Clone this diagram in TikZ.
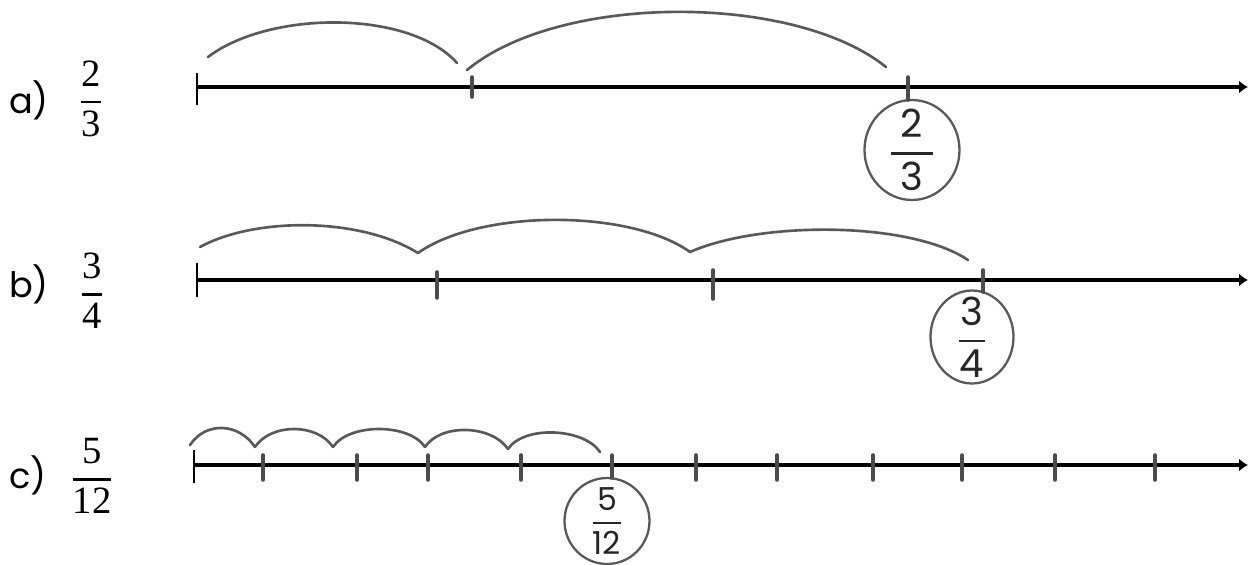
\documentclass[tikz,border=0pt]{standalone}
\usepackage{amsmath}
\usepackage{fontspec}
\setsansfont{Poppins}
\newfontfamily\digitfont{Liberation Serif}
\usetikzlibrary{arrows.meta,shapes.geometric}

\newcommand{\barfrac}[2]{$\genfrac{}{}{1.3pt}{0}{\text{\digitfont #1}}{\text{\digitfont #2}}$}
\newcommand{\ringfrac}[3]{$\genfrac{}{}{1.4pt}{0}{\mkern#3mu\textsf{#1}\mkern#3mu}{\textsf{#2}}$}

\tikzset{
  numline/.style={line width=2pt,-{Latex[length=1.8mm,width=2.6mm]}},
  zerotick/.style={line width=1pt},
  marktick/.style={black!70,line width=2pt,line cap=round},
  jump/.style={black!65,line width=1.5pt,line cap=round},
  ring/.style={ellipse,draw=black!65,line width=1.3pt,inner sep=0pt},
  partlab/.style={font=\sffamily\fontsize{20}{24}\selectfont},
  fraclab/.style={font=\fontsize{22}{26}\selectfont},
  handfrac/.style={font=\sffamily\fontsize{22}{26}\selectfont,text=black!85}
}

\begin{document}
\begin{tikzpicture}[x=0.02cm,y=-0.02cm]
\useasboundingbox (0,0) rectangle (1249,565);

% a) two thirds
\node[partlab] (la) at (29,100) {a)};
\node[fraclab] (fa) at (91,99) {\barfrac{2}{3}};
\coordinate (a0) at (197,87);
\coordinate (a1) at (1248,87);
\draw[numline] (a0) -- (a1);
\draw[zerotick] (197,73) -- (197,105);
\draw[marktick] (472,77) -- (472,97);
\node[ring,minimum width=1.9cm,minimum height=2cm] (ra) at (912,150) {};
\node[handfrac] (ta) at (ra.center) {\ringfrac{2}{3}{5}};
\draw[marktick] (908,77) -- (908,100);
\coordinate (ja0) at (208,57);
\coordinate (ja1) at (457,63);
\coordinate (ja2) at (467,70);
\coordinate (ja3) at (886,67);
\draw[jump] (ja0) .. controls (270,10) and (410,10) .. (ja1);
\draw[jump] (ja2) .. controls (560,-7) and (794,-7) .. (ja3);

% b) three quarters
\node[partlab] (lb) at (29,284) {b)};
\node[fraclab] (fb) at (92,291) {\barfrac{3}{4}};
\coordinate (b0) at (197,280);
\coordinate (b1) at (1248,280);
\draw[numline] (b0) -- (b1);
\draw[zerotick] (197,263) -- (197,297);
\draw[marktick] (437,272) -- (437,298);
\draw[marktick] (713,270) -- (713,299);
\node[ring,minimum width=1.66cm,minimum height=1.86cm] (rb) at (972,337) {};
\node[handfrac] (tb) at (rb.center) {\ringfrac{3}{4}{1}};
\draw[marktick] (983,270) -- (983,292);
\coordinate (jb0) at (200,247);
\coordinate (jb1) at (418,253);
\coordinate (jb2) at (690,252);
\coordinate (jb3) at (968,260);
\draw[jump] (jb0) .. controls (255,217) and (360,217) .. (jb1);
\draw[jump] (jb1) .. controls (480,209) and (630,209) .. (jb2);
\draw[jump] (jb2) .. controls (760,221) and (910,221) .. (jb3);

% c) five twelfths
\node[partlab] (lc) at (28,475) {c)};
\node[fraclab] (fc) at (92,476) {\barfrac{5}{12}};
\coordinate (c0) at (194,465);
\coordinate (c1) at (1248,465);
\draw[numline] (c0) -- (c1);
\draw[zerotick] (194,450) -- (194,483);
\foreach \x in {263,357,428,521,696,777,873,962,1055,1155}
  \draw[marktick] (\x,455) -- (\x,480);
\node[ring,minimum width=1.7cm,minimum height=1.72cm] (rc) at (607,521) {};
\node[handfrac,font=\sffamily\fontsize{18}{22}\selectfont] (tc) at (rc.center) {\ringfrac{5}{12}{0}};
\draw[marktick] (612,455) -- (612,478);
\coordinate (jc0) at (190,445);
\coordinate (jc1) at (255,447);
\coordinate (jc2) at (333,447);
\coordinate (jc3) at (425,447);
\coordinate (jc4) at (508,449);
\coordinate (jc5) at (600,452);
\foreach \i/\j in {0/1,1/2,2/3,3/4,4/5}
  \draw[jump] (jc\i) .. controls +(16,-24) and +(-16,-24) .. (jc\j);
\end{tikzpicture}
\end{document}
